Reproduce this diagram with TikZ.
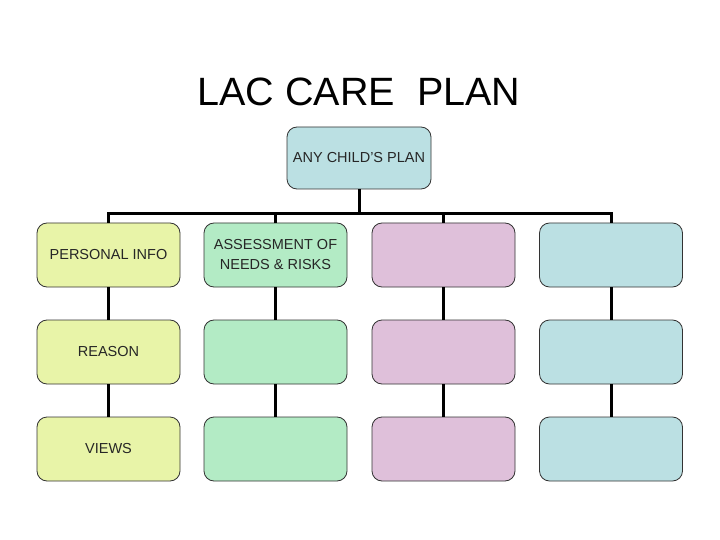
\documentclass[tikz,border=0pt]{standalone}
\usepackage{fontspec}
\setmainfont{Liberation Sans}
\definecolor{cyel}{HTML}{E8F4A8}
\definecolor{cgrn}{HTML}{B3EBC5}
\definecolor{cpnk}{HTML}{DFC0DA}
\definecolor{cblu}{HTML}{BBE0E3}
\begin{document}
\begin{tikzpicture}[x=1pt,y=-1pt,
  lbl/.style={align=center, font=\fontsize{14.5}{20}\selectfont, text=black!85},
  box/.style={lbl, draw=black!80, line width=0.8pt, rounded corners=10pt, minimum width=143pt, minimum height=64pt, inner sep=2pt},
  conn/.style={line width=3pt}]
\useasboundingbox (0,0) rectangle (720,540);
\fill[white] (0,0) rectangle (720,540);
\node[font=\fontsize{39.5}{44}\selectfont] (title) at (359,92) {LAC CARE\ \ PLAN};
\node[box, fill=cblu, minimum width=144pt, minimum height=62pt] (top) at (359,158) {ANY CHILD'S PLAN};
\foreach \c/\x/\col in {1/108.5/cyel,2/275.5/cgrn,3/443.5/cpnk,4/611/cblu}{
  \node[box, fill=\col] (b\c1) at (\x,255) {};
  \node[box, fill=\col] (b\c2) at (\x,352) {};
  \node[box, fill=\col] (b\c3) at (\x,449) {};
}
\node[lbl] (t11) at (b11) {PERSONAL INFO};
\node[lbl] (t21) at (b21) {ASSESSMENT OF\\NEEDS \& RISKS};
\node[lbl] (t12) at (b12) {REASON};
\node[lbl] (t13) at (b13) {VIEWS};
\coordinate (bar) at (359,214);
\draw[conn] (top.south) -- (bar);
\draw[conn] ([xshift=-1.5pt]b11.north |- bar) -- ([xshift=1.5pt]b41.north |- bar);
\foreach \c in {1,2,3,4}{
  \draw[conn] (b\c1.north |- bar) -- (b\c1.north);
  \draw[conn] (b\c1.south) -- (b\c2.north);
  \draw[conn] (b\c2.south) -- (b\c3.north);
}
\end{tikzpicture}
\end{document}
